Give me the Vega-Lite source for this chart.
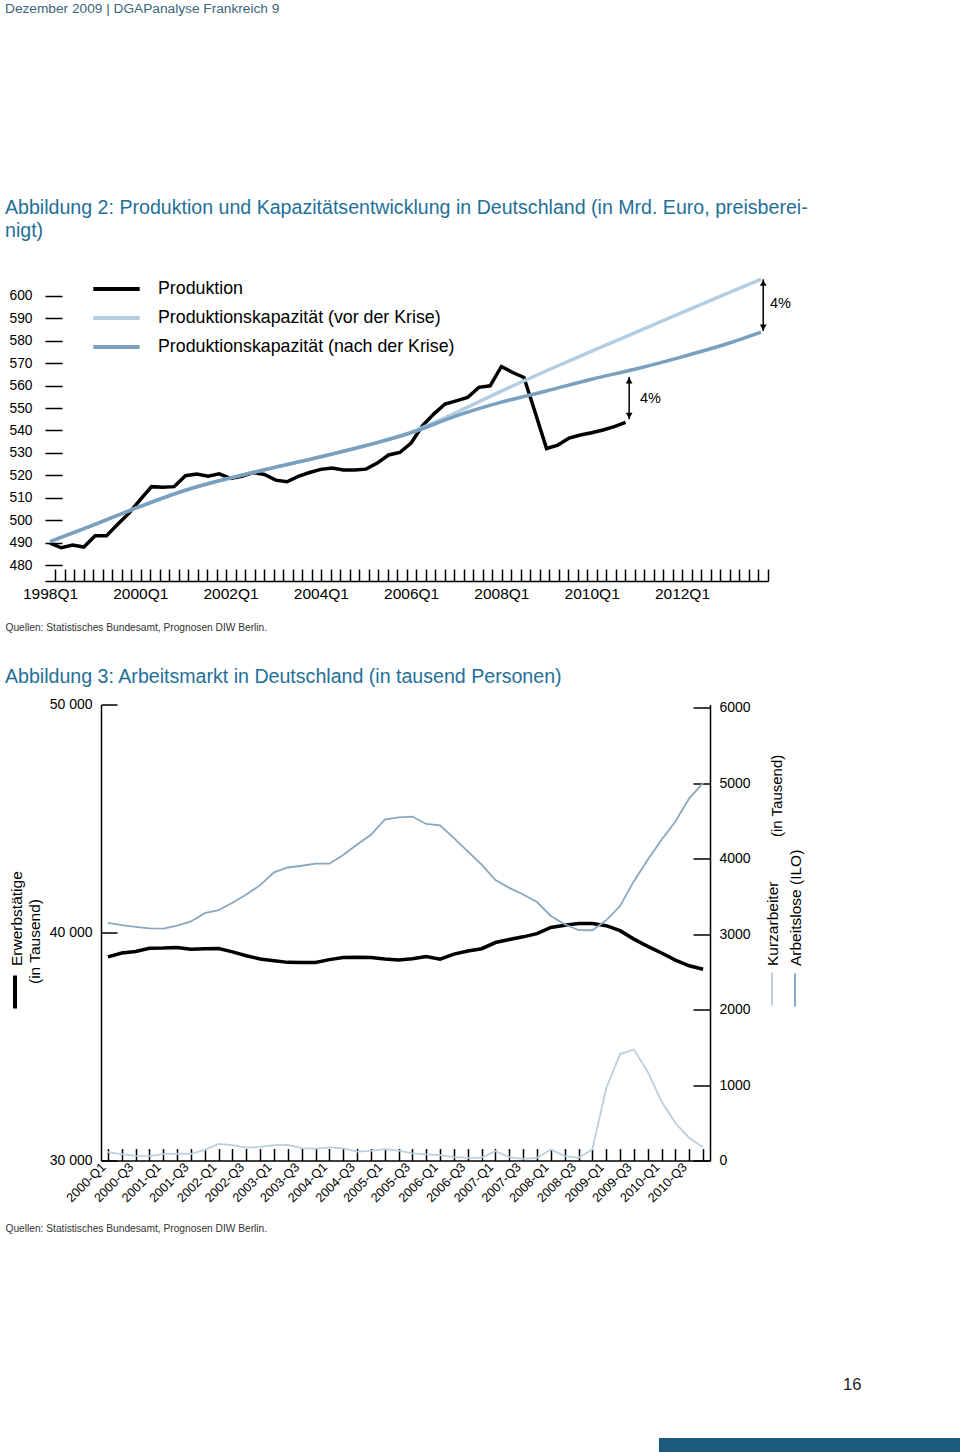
{
  "$schema": "https://vega.github.io/schema/vega-lite/v6.json",
  "background": "white",
  "padding": {"left": 5, "top": 1, "right": 0, "bottom": 0},
  "config": {
    "font": "Liberation Sans",
    "view": {"stroke": null},
    "axis": {"grid": false, "domainColor": "#000", "tickColor": "#000", "labelColor": "#000", "titleColor": "#000", "titleFontWeight": "normal", "domainWidth": 1.5, "tickWidth": 1.5, "labelFlush": false, "labelOverlap": false},
    "legend": {"padding": 0, "labelColor": "#000"},
    "title": {"fontWeight": "normal"}
  },
  "datasets": {
    "prod": [
      {"t": 1998.0, "series": "Produktion", "v": 489.9}, {"t": 1998.25, "series": "Produktion", "v": 487.8}, {"t": 1998.5, "series": "Produktion", "v": 489.0}, {"t": 1998.75, "series": "Produktion", "v": 488.1},
      {"t": 1999.0, "series": "Produktion", "v": 493.1}, {"t": 1999.25, "series": "Produktion", "v": 493.1}, {"t": 1999.5, "series": "Produktion", "v": 498.3}, {"t": 1999.75, "series": "Produktion", "v": 503.2},
      {"t": 2000.0, "series": "Produktion", "v": 509.2}, {"t": 2000.25, "series": "Produktion", "v": 515.0}, {"t": 2000.5, "series": "Produktion", "v": 514.7}, {"t": 2000.75, "series": "Produktion", "v": 515.0},
      {"t": 2001.0, "series": "Produktion", "v": 519.9}, {"t": 2001.25, "series": "Produktion", "v": 520.6}, {"t": 2001.5, "series": "Produktion", "v": 519.6}, {"t": 2001.75, "series": "Produktion", "v": 520.7},
      {"t": 2002.0, "series": "Produktion", "v": 518.7}, {"t": 2002.25, "series": "Produktion", "v": 519.6}, {"t": 2002.5, "series": "Produktion", "v": 521.3}, {"t": 2002.75, "series": "Produktion", "v": 520.4},
      {"t": 2003.0, "series": "Produktion", "v": 517.9}, {"t": 2003.25, "series": "Produktion", "v": 517.2}, {"t": 2003.5, "series": "Produktion", "v": 519.6}, {"t": 2003.75, "series": "Produktion", "v": 521.3},
      {"t": 2004.0, "series": "Produktion", "v": 522.7}, {"t": 2004.25, "series": "Produktion", "v": 523.3}, {"t": 2004.5, "series": "Produktion", "v": 522.4}, {"t": 2004.75, "series": "Produktion", "v": 522.4},
      {"t": 2005.0, "series": "Produktion", "v": 522.8}, {"t": 2005.25, "series": "Produktion", "v": 525.5}, {"t": 2005.5, "series": "Produktion", "v": 529.1}, {"t": 2005.75, "series": "Produktion", "v": 530.2},
      {"t": 2006.0, "series": "Produktion", "v": 534.4}, {"t": 2006.25, "series": "Produktion", "v": 542.1}, {"t": 2006.5, "series": "Produktion", "v": 547.3}, {"t": 2006.75, "series": "Produktion", "v": 551.8},
      {"t": 2007.0, "series": "Produktion", "v": 553.2}, {"t": 2007.25, "series": "Produktion", "v": 554.7}, {"t": 2007.5, "series": "Produktion", "v": 559.2}, {"t": 2007.75, "series": "Produktion", "v": 559.9},
      {"t": 2008.0, "series": "Produktion", "v": 568.5}, {"t": 2008.25, "series": "Produktion", "v": 565.8}, {"t": 2008.5, "series": "Produktion", "v": 563.6}, {"t": 2008.75, "series": "Produktion", "v": 547.9},
      {"t": 2009.0, "series": "Produktion", "v": 532.0}, {"t": 2009.25, "series": "Produktion", "v": 533.5}, {"t": 2009.5, "series": "Produktion", "v": 536.6}, {"t": 2009.75, "series": "Produktion", "v": 538.0},
      {"t": 2010.0, "series": "Produktion", "v": 539.0}, {"t": 2010.25, "series": "Produktion", "v": 540.2}, {"t": 2010.5, "series": "Produktion", "v": 541.7}, {"t": 2010.75, "series": "Produktion", "v": 543.6}
    ],
    "cap": [
      {"t": 1998, "series": "Produktionskapazität (vor der Krise)", "v": 490.5},
      {"t": 1999, "series": "Produktionskapazität (vor der Krise)", "v": 498.2},
      {"t": 2000, "series": "Produktionskapazität (vor der Krise)", "v": 506.2},
      {"t": 2001, "series": "Produktionskapazität (vor der Krise)", "v": 513.4},
      {"t": 2002, "series": "Produktionskapazität (vor der Krise)", "v": 518.9},
      {"t": 2003, "series": "Produktionskapazität (vor der Krise)", "v": 523.7},
      {"t": 2004, "series": "Produktionskapazität (vor der Krise)", "v": 528.3},
      {"t": 2005, "series": "Produktionskapazität (vor der Krise)", "v": 533.3},
      {"t": 2006, "series": "Produktionskapazität (vor der Krise)", "v": 539.3},
      {"t": 2007, "series": "Produktionskapazität (vor der Krise)", "v": 548.0},
      {"t": 2008, "series": "Produktionskapazität (vor der Krise)", "v": 557.5},
      {"t": 2009, "series": "Produktionskapazität (vor der Krise)", "v": 566.6},
      {"t": 2010, "series": "Produktionskapazität (vor der Krise)", "v": 575.3},
      {"t": 2011, "series": "Produktionskapazität (vor der Krise)", "v": 583.9},
      {"t": 2012, "series": "Produktionskapazität (vor der Krise)", "v": 592.5},
      {"t": 2013, "series": "Produktionskapazität (vor der Krise)", "v": 601.0},
      {"t": 2013.75, "series": "Produktionskapazität (vor der Krise)", "v": 607.3},
      {"t": 1998, "series": "Produktionskapazität (nach der Krise)", "v": 490.5},
      {"t": 1999, "series": "Produktionskapazität (nach der Krise)", "v": 498.2},
      {"t": 2000, "series": "Produktionskapazität (nach der Krise)", "v": 506.2},
      {"t": 2001, "series": "Produktionskapazität (nach der Krise)", "v": 513.4},
      {"t": 2002, "series": "Produktionskapazität (nach der Krise)", "v": 518.9},
      {"t": 2003, "series": "Produktionskapazität (nach der Krise)", "v": 523.7},
      {"t": 2004, "series": "Produktionskapazität (nach der Krise)", "v": 528.3},
      {"t": 2005, "series": "Produktionskapazität (nach der Krise)", "v": 533.3},
      {"t": 2006, "series": "Produktionskapazität (nach der Krise)", "v": 539.0},
      {"t": 2007, "series": "Produktionskapazität (nach der Krise)", "v": 546.5},
      {"t": 2008, "series": "Produktionskapazität (nach der Krise)", "v": 552.6},
      {"t": 2009, "series": "Produktionskapazität (nach der Krise)", "v": 557.6},
      {"t": 2010, "series": "Produktionskapazität (nach der Krise)", "v": 562.8},
      {"t": 2011, "series": "Produktionskapazität (nach der Krise)", "v": 567.5},
      {"t": 2012, "series": "Produktionskapazität (nach der Krise)", "v": 572.8},
      {"t": 2013, "series": "Produktionskapazität (nach der Krise)", "v": 578.6},
      {"t": 2013.75, "series": "Produktionskapazität (nach der Krise)", "v": 583.8}
    ],
    "ann": [
      {"x": 2010.83, "lo": 545.0, "hi": 563.8, "lx": 2011.07, "ly": 554.1, "lab": "4%"},
      {"x": 2013.8, "lo": 584.3, "hi": 607.3, "lx": 2013.95, "ly": 596.1, "lab": "4%"}
    ],
    "lab": [
      {"q": "2000-Q1", "s": "Erwerbstätige", "v": 38930}, {"q": "2000-Q2", "s": "Erwerbstätige", "v": 39100}, {"q": "2000-Q3", "s": "Erwerbstätige", "v": 39170}, {"q": "2000-Q4", "s": "Erwerbstätige", "v": 39310},
      {"q": "2001-Q1", "s": "Erwerbstätige", "v": 39315}, {"q": "2001-Q2", "s": "Erwerbstätige", "v": 39340}, {"q": "2001-Q3", "s": "Erwerbstätige", "v": 39270}, {"q": "2001-Q4", "s": "Erwerbstätige", "v": 39285},
      {"q": "2002-Q1", "s": "Erwerbstätige", "v": 39295}, {"q": "2002-Q2", "s": "Erwerbstätige", "v": 39150}, {"q": "2002-Q3", "s": "Erwerbstätige", "v": 38980}, {"q": "2002-Q4", "s": "Erwerbstätige", "v": 38840},
      {"q": "2003-Q1", "s": "Erwerbstätige", "v": 38760}, {"q": "2003-Q2", "s": "Erwerbstätige", "v": 38690}, {"q": "2003-Q3", "s": "Erwerbstätige", "v": 38680}, {"q": "2003-Q4", "s": "Erwerbstätige", "v": 38685},
      {"q": "2004-Q1", "s": "Erwerbstätige", "v": 38810}, {"q": "2004-Q2", "s": "Erwerbstätige", "v": 38900}, {"q": "2004-Q3", "s": "Erwerbstätige", "v": 38915}, {"q": "2004-Q4", "s": "Erwerbstätige", "v": 38905},
      {"q": "2005-Q1", "s": "Erwerbstätige", "v": 38840}, {"q": "2005-Q2", "s": "Erwerbstätige", "v": 38790}, {"q": "2005-Q3", "s": "Erwerbstätige", "v": 38845}, {"q": "2005-Q4", "s": "Erwerbstätige", "v": 38945},
      {"q": "2006-Q1", "s": "Erwerbstätige", "v": 38830}, {"q": "2006-Q2", "s": "Erwerbstätige", "v": 39050}, {"q": "2006-Q3", "s": "Erwerbstätige", "v": 39190}, {"q": "2006-Q4", "s": "Erwerbstätige", "v": 39290},
      {"q": "2007-Q1", "s": "Erwerbstätige", "v": 39560}, {"q": "2007-Q2", "s": "Erwerbstätige", "v": 39690}, {"q": "2007-Q3", "s": "Erwerbstätige", "v": 39810}, {"q": "2007-Q4", "s": "Erwerbstätige", "v": 39950},
      {"q": "2008-Q1", "s": "Erwerbstätige", "v": 40220}, {"q": "2008-Q2", "s": "Erwerbstätige", "v": 40320}, {"q": "2008-Q3", "s": "Erwerbstätige", "v": 40390}, {"q": "2008-Q4", "s": "Erwerbstätige", "v": 40395},
      {"q": "2009-Q1", "s": "Erwerbstätige", "v": 40300}, {"q": "2009-Q2", "s": "Erwerbstätige", "v": 40080}, {"q": "2009-Q3", "s": "Erwerbstätige", "v": 39710}, {"q": "2009-Q4", "s": "Erwerbstätige", "v": 39390},
      {"q": "2010-Q1", "s": "Erwerbstätige", "v": 39100}, {"q": "2010-Q2", "s": "Erwerbstätige", "v": 38790}, {"q": "2010-Q3", "s": "Erwerbstätige", "v": 38540}, {"q": "2010-Q4", "s": "Erwerbstätige", "v": 38390},
      {"q": "2000-Q1", "s": "Arbeitslose (ILO)", "v": 3150}, {"q": "2000-Q2", "s": "Arbeitslose (ILO)", "v": 3120}, {"q": "2000-Q3", "s": "Arbeitslose (ILO)", "v": 3097}, {"q": "2000-Q4", "s": "Arbeitslose (ILO)", "v": 3078},
      {"q": "2001-Q1", "s": "Arbeitslose (ILO)", "v": 3075}, {"q": "2001-Q2", "s": "Arbeitslose (ILO)", "v": 3115}, {"q": "2001-Q3", "s": "Arbeitslose (ILO)", "v": 3170}, {"q": "2001-Q4", "s": "Arbeitslose (ILO)", "v": 3280},
      {"q": "2002-Q1", "s": "Arbeitslose (ILO)", "v": 3320}, {"q": "2002-Q2", "s": "Arbeitslose (ILO)", "v": 3418}, {"q": "2002-Q3", "s": "Arbeitslose (ILO)", "v": 3527}, {"q": "2002-Q4", "s": "Arbeitslose (ILO)", "v": 3651},
      {"q": "2003-Q1", "s": "Arbeitslose (ILO)", "v": 3820}, {"q": "2003-Q2", "s": "Arbeitslose (ILO)", "v": 3885}, {"q": "2003-Q3", "s": "Arbeitslose (ILO)", "v": 3908}, {"q": "2003-Q4", "s": "Arbeitslose (ILO)", "v": 3935},
      {"q": "2004-Q1", "s": "Arbeitslose (ILO)", "v": 3936}, {"q": "2004-Q2", "s": "Arbeitslose (ILO)", "v": 4050}, {"q": "2004-Q3", "s": "Arbeitslose (ILO)", "v": 4190}, {"q": "2004-Q4", "s": "Arbeitslose (ILO)", "v": 4318},
      {"q": "2005-Q1", "s": "Arbeitslose (ILO)", "v": 4520}, {"q": "2005-Q2", "s": "Arbeitslose (ILO)", "v": 4550}, {"q": "2005-Q3", "s": "Arbeitslose (ILO)", "v": 4560}, {"q": "2005-Q4", "s": "Arbeitslose (ILO)", "v": 4462},
      {"q": "2006-Q1", "s": "Arbeitslose (ILO)", "v": 4445}, {"q": "2006-Q2", "s": "Arbeitslose (ILO)", "v": 4274}, {"q": "2006-Q3", "s": "Arbeitslose (ILO)", "v": 4099}, {"q": "2006-Q4", "s": "Arbeitslose (ILO)", "v": 3922},
      {"q": "2007-Q1", "s": "Arbeitslose (ILO)", "v": 3717}, {"q": "2007-Q2", "s": "Arbeitslose (ILO)", "v": 3615}, {"q": "2007-Q3", "s": "Arbeitslose (ILO)", "v": 3527}, {"q": "2007-Q4", "s": "Arbeitslose (ILO)", "v": 3427},
      {"q": "2008-Q1", "s": "Arbeitslose (ILO)", "v": 3242}, {"q": "2008-Q2", "s": "Arbeitslose (ILO)", "v": 3132}, {"q": "2008-Q3", "s": "Arbeitslose (ILO)", "v": 3055}, {"q": "2008-Q4", "s": "Arbeitslose (ILO)", "v": 3053},
      {"q": "2009-Q1", "s": "Arbeitslose (ILO)", "v": 3184}, {"q": "2009-Q2", "s": "Arbeitslose (ILO)", "v": 3374}, {"q": "2009-Q3", "s": "Arbeitslose (ILO)", "v": 3704}, {"q": "2009-Q4", "s": "Arbeitslose (ILO)", "v": 3988},
      {"q": "2010-Q1", "s": "Arbeitslose (ILO)", "v": 4252}, {"q": "2010-Q2", "s": "Arbeitslose (ILO)", "v": 4494}, {"q": "2010-Q3", "s": "Arbeitslose (ILO)", "v": 4801}, {"q": "2010-Q4", "s": "Arbeitslose (ILO)", "v": 5008},
      {"q": "2000-Q1", "s": "Kurzarbeiter", "v": 110}, {"q": "2000-Q2", "s": "Kurzarbeiter", "v": 85}, {"q": "2000-Q3", "s": "Kurzarbeiter", "v": 62}, {"q": "2000-Q4", "s": "Kurzarbeiter", "v": 58},
      {"q": "2001-Q1", "s": "Kurzarbeiter", "v": 85}, {"q": "2001-Q2", "s": "Kurzarbeiter", "v": 92}, {"q": "2001-Q3", "s": "Kurzarbeiter", "v": 88}, {"q": "2001-Q4", "s": "Kurzarbeiter", "v": 140},
      {"q": "2002-Q1", "s": "Kurzarbeiter", "v": 220}, {"q": "2002-Q2", "s": "Kurzarbeiter", "v": 205}, {"q": "2002-Q3", "s": "Kurzarbeiter", "v": 170}, {"q": "2002-Q4", "s": "Kurzarbeiter", "v": 180},
      {"q": "2003-Q1", "s": "Kurzarbeiter", "v": 205}, {"q": "2003-Q2", "s": "Kurzarbeiter", "v": 207}, {"q": "2003-Q3", "s": "Kurzarbeiter", "v": 165}, {"q": "2003-Q4", "s": "Kurzarbeiter", "v": 158},
      {"q": "2004-Q1", "s": "Kurzarbeiter", "v": 175}, {"q": "2004-Q2", "s": "Kurzarbeiter", "v": 162}, {"q": "2004-Q3", "s": "Kurzarbeiter", "v": 118}, {"q": "2004-Q4", "s": "Kurzarbeiter", "v": 128},
      {"q": "2005-Q1", "s": "Kurzarbeiter", "v": 150}, {"q": "2005-Q2", "s": "Kurzarbeiter", "v": 130}, {"q": "2005-Q3", "s": "Kurzarbeiter", "v": 95}, {"q": "2005-Q4", "s": "Kurzarbeiter", "v": 80},
      {"q": "2006-Q1", "s": "Kurzarbeiter", "v": 70}, {"q": "2006-Q2", "s": "Kurzarbeiter", "v": 45}, {"q": "2006-Q3", "s": "Kurzarbeiter", "v": 36}, {"q": "2006-Q4", "s": "Kurzarbeiter", "v": 38},
      {"q": "2007-Q1", "s": "Kurzarbeiter", "v": 124}, {"q": "2007-Q2", "s": "Kurzarbeiter", "v": 45}, {"q": "2007-Q3", "s": "Kurzarbeiter", "v": 22}, {"q": "2007-Q4", "s": "Kurzarbeiter", "v": 36},
      {"q": "2008-Q1", "s": "Kurzarbeiter", "v": 146}, {"q": "2008-Q2", "s": "Kurzarbeiter", "v": 58}, {"q": "2008-Q3", "s": "Kurzarbeiter", "v": 36}, {"q": "2008-Q4", "s": "Kurzarbeiter", "v": 146},
      {"q": "2009-Q1", "s": "Kurzarbeiter", "v": 958}, {"q": "2009-Q2", "s": "Kurzarbeiter", "v": 1411}, {"q": "2009-Q3", "s": "Kurzarbeiter", "v": 1472}, {"q": "2009-Q4", "s": "Kurzarbeiter", "v": 1178},
      {"q": "2010-Q1", "s": "Kurzarbeiter", "v": 783}, {"q": "2010-Q2", "s": "Kurzarbeiter", "v": 497}, {"q": "2010-Q3", "s": "Kurzarbeiter", "v": 299}, {"q": "2010-Q4", "s": "Kurzarbeiter", "v": 177}
    ]
  },
  "title": {"text": "Dezember 2009 | DGAPanalyse Frankreich 9", "anchor": "start", "frame": "bounds", "fontSize": 13.7, "color": "#3b6678", "offset": 183},
  "spacing": 143,
  "vconcat": [
    {
      "spacing": 33.5,
      "vconcat": [
        {
          "width": 723,
          "height": 310,
          "title": {"text": ["Abbildung 2: Produktion und Kapazitätsentwicklung in Deutschland (in Mrd. Euro, preisberei-", "nigt)"], "anchor": "start", "frame": "bounds", "fontSize": 19.6, "lineHeight": 23, "color": "#1f6f99", "offset": 29},
          "resolve": {"axis": {"x": "independent", "y": "independent"}},
          "layer": [
            {
              "data": {"name": "prod"},
              "mark": {"type": "line", "strokeWidth": 3.5},
              "encoding": {
                "x": {"field": "t", "type": "quantitative", "scale": {"domain": [1997.889, 2013.906], "nice": false, "zero": false},
                  "axis": {"orient": "bottom", "labels": false, "title": null, "tickSize": -12,
                    "values": [1998.111, 1998.322, 1998.532, 1998.743, 1998.953, 1999.164, 1999.375, 1999.585, 1999.796, 2000.006, 2000.217, 2000.428, 2000.638, 2000.849, 2001.059, 2001.27, 2001.481, 2001.691, 2001.902, 2002.112, 2002.323, 2002.534, 2002.744, 2002.955, 2003.165, 2003.376, 2003.587, 2003.797, 2004.008, 2004.218, 2004.429, 2004.64, 2004.85, 2005.061, 2005.271, 2005.482, 2005.693, 2005.903, 2006.114, 2006.324, 2006.535, 2006.746, 2006.956, 2007.167, 2007.377, 2007.588, 2007.799, 2008.009, 2008.22, 2008.43, 2008.641, 2008.852, 2009.062, 2009.273, 2009.483, 2009.694, 2009.905, 2010.115, 2010.326, 2010.536, 2010.747, 2010.958, 2011.168, 2011.379, 2011.589, 2011.8, 2012.011, 2012.221, 2012.432, 2012.642, 2012.853, 2013.064, 2013.274, 2013.485, 2013.695, 2013.906]}},
                "y": {"field": "v", "type": "quantitative", "scale": {"domain": [473, 611], "nice": false, "zero": false},
                  "axis": {"orient": "left", "values": [480, 490, 500, 510, 520, 530, 540, 550, 560, 570, 580, 590, 600], "tickSize": -17, "labelPadding": 30, "labelFontSize": 13.8, "domain": false, "title": null}},
                "color": {"field": "series", "type": "nominal",
                  "scale": {"domain": ["Produktion", "Produktionskapazität (vor der Krise)", "Produktionskapazität (nach der Krise)"], "range": ["#000000", "#b4cde1", "#7aa0c0"]},
                  "legend": {"orient": "none", "legendX": 55, "legendY": 1.5, "title": null, "direction": "vertical", "symbolType": "M-1.6,0H1.6", "symbolSize": 841, "symbolStrokeWidth": 4, "labelFontSize": 17.8, "labelOffset": 25, "labelLimit": 500, "rowPadding": 3}}
              }
            },
            {
              "data": {"name": "cap"},
              "mark": {"type": "line", "strokeWidth": 3.5, "interpolate": "monotone"},
              "encoding": {
                "x": {"field": "t", "type": "quantitative",
                  "axis": {"orient": "bottom", "ticks": false, "domain": false, "values": [1998, 2000, 2002, 2004, 2006, 2008, 2010, 2012], "labelExpr": "datum.value + 'Q1'", "labelFontSize": 15.5, "labelPadding": 5,
                    "title": "Quellen: Statistisches Bundesamt, Prognosen DIW Berlin.", "titleFontSize": 10.2, "titleColor": "#333333", "titleX": -40, "titleY": 46, "titleAlign": "left", "titleBaseline": "middle", "titleAngle": 0}},
                "y": {"field": "v", "type": "quantitative", "axis": null},
                "color": {"field": "series", "type": "nominal",
                  "scale": {"domain": ["Produktion", "Produktionskapazität (vor der Krise)", "Produktionskapazität (nach der Krise)"], "range": ["#000000", "#b4cde1", "#7aa0c0"]},
                  "legend": {"orient": "none", "legendX": 55, "legendY": 1.5, "title": null, "direction": "vertical", "symbolType": "M-1.6,0H1.6", "symbolSize": 841, "symbolStrokeWidth": 4, "labelFontSize": 17.8, "labelOffset": 25, "labelLimit": 500, "rowPadding": 3}}
              }
            },
            {
              "data": {"name": "ann"},
              "mark": {"type": "rule", "strokeWidth": 1.5, "color": "#000"},
              "encoding": {
                "x": {"field": "x", "type": "quantitative", "axis": null},
                "y": {"field": "lo", "type": "quantitative", "axis": null},
                "y2": {"field": "hi"}
              }
            },
            {
              "data": {"name": "ann"},
              "mark": {"type": "point", "shape": "triangle-up", "filled": true, "color": "#000", "size": 45, "opacity": 1, "yOffset": 3.5},
              "encoding": {
                "x": {"field": "x", "type": "quantitative", "axis": null},
                "y": {"field": "hi", "type": "quantitative", "axis": null}
              }
            },
            {
              "data": {"name": "ann"},
              "mark": {"type": "point", "shape": "triangle-down", "filled": true, "color": "#000", "size": 45, "opacity": 1, "yOffset": -3.5},
              "encoding": {
                "x": {"field": "x", "type": "quantitative", "axis": null},
                "y": {"field": "lo", "type": "quantitative", "axis": null}
              }
            },
            {
              "data": {"name": "ann"},
              "mark": {"type": "text", "align": "left", "baseline": "middle", "fontSize": 14.5, "color": "#000"},
              "encoding": {
                "x": {"field": "lx", "type": "quantitative", "axis": null},
                "y": {"field": "ly", "type": "quantitative", "axis": null},
                "text": {"field": "lab"}
              }
            }
          ]
        },
        {
          "width": 665,
          "height": 456,
          "title": {"text": "Abbildung 3: Arbeitsmarkt in Deutschland (in tausend Personen)", "anchor": "start", "frame": "bounds", "fontSize": 19.6, "color": "#1f6f99", "offset": 10},
          "data": {"name": "lab"},
          "resolve": {"scale": {"y": "independent", "color": "independent"}, "axis": {"y": "independent", "x": "independent"}},
          "layer": [
            {
              "transform": [{"filter": "datum.s == 'Erwerbstätige'"}],
              "mark": {"type": "line", "strokeWidth": 3.5},
              "encoding": {
                "x": {"field": "q", "type": "ordinal", "sort": null, "scale": {"type": "point", "padding": 0.5, "range": [56, 665]},
                  "axis": {"orient": "bottom", "labelAngle": -45, "tickSize": -12, "labelPadding": 12, "labelOffset": -9, "labelFontSize": 12.7,
                    "labelExpr": "(indexof(datum.value, 'Q1') > 0 || indexof(datum.value, 'Q3') > 0) ? datum.value : ''",
                    "title": "Quellen: Statistisches Bundesamt, Prognosen DIW Berlin.", "titleFontSize": 10.2, "titleColor": "#333333", "titleX": -40, "titleY": 68, "titleAlign": "left", "titleBaseline": "middle", "titleAngle": 0}},
                "y": {"field": "v", "type": "quantitative", "scale": {"domain": [30000, 50000], "nice": false, "zero": false},
                  "axis": {"orient": "left", "offset": -56, "values": [30000, 40000, 50000], "tickSize": -16, "labelPadding": 25, "labelFontSize": 14,
                    "labelExpr": "replace(format(datum.value, ','), ',', ' ')",
                    "title": "(in Tausend)", "titleAngle": 270, "titleAlign": "left", "titleBaseline": "top", "titleX": -73.5, "titleY": 279, "titleFontSize": 15.5}},
                "color": {"field": "s", "type": "nominal", "scale": {"domain": ["Erwerbstätige"], "range": ["#000000"]},
                  "legend": {"orient": "none", "legendX": -37.5, "legendY": 280, "title": null, "symbolType": "M0,-3V3", "symbolSize": 121, "symbolStrokeWidth": 4, "labelExpr": "''", "labelFontSize": 8}}
              }
            },
            {
              "transform": [{"filter": "datum.s == 'Erwerbstätige'"}],
              "mark": {"type": "line", "strokeWidth": 3.5, "opacity": 0},
              "encoding": {
                "x": {"field": "q", "type": "ordinal", "sort": null, "axis": null},
                "y": {"field": "v", "type": "quantitative", "scale": {"domain": [30000, 50000], "nice": false, "zero": false},
                  "axis": {"orient": "left", "offset": -56, "domain": false, "ticks": false, "labels": false,
                    "title": "Erwerbstätige", "titleAngle": 270, "titleAlign": "left", "titleBaseline": "top", "titleX": -92, "titleY": 261, "titleFontSize": 15.5}}
              }
            },
            {
              "transform": [{"filter": "datum.s == 'Arbeitslose (ILO)'"}],
              "mark": {"type": "line", "strokeWidth": 1.8},
              "encoding": {
                "x": {"field": "q", "type": "ordinal", "sort": null, "axis": null},
                "y": {"field": "v", "type": "quantitative", "scale": {"domain": [0, 6046], "nice": false, "zero": false},
                  "axis": {"orient": "right", "values": [0, 1000, 2000, 3000, 4000, 5000, 6000], "format": "d", "tickSize": -17, "labelPadding": 26, "labelFontSize": 14,
                    "title": ["Kurzarbeiter", "Arbeitslose (ILO)"], "titleAngle": 270, "titleAlign": "left", "titleBaseline": "top", "titleX": 55, "titleY": 261, "titleFontSize": 15.5, "titleLineHeight": 23.5}},
                "color": {"field": "s", "type": "nominal", "scale": {"domain": ["Arbeitslose (ILO)"], "range": ["#8aa7bd"]},
                  "legend": {"orient": "none", "legendX": 743.5, "legendY": 279, "title": null, "symbolType": "M0,-3V3", "symbolSize": 121, "symbolStrokeWidth": 2, "labelExpr": "''", "labelFontSize": 8}}
              }
            },
            {
              "transform": [{"filter": "datum.s == 'Kurzarbeiter'"}],
              "mark": {"type": "line", "strokeWidth": 1.8},
              "encoding": {
                "x": {"field": "q", "type": "ordinal", "sort": null, "axis": null},
                "y": {"field": "v", "type": "quantitative", "scale": {"domain": [0, 6046], "nice": false, "zero": false},
                  "axis": {"orient": "right", "domain": false, "ticks": false, "labels": false,
                    "title": "(in Tausend)", "titleAngle": 270, "titleAlign": "left", "titleBaseline": "top", "titleX": 59, "titleY": 132, "titleFontSize": 15}},
                "color": {"field": "s", "type": "nominal", "scale": {"domain": ["Kurzarbeiter"], "range": ["#bccfdc"]},
                  "legend": {"orient": "none", "legendX": 720.5, "legendY": 278, "title": null, "symbolType": "M0,-3V3", "symbolSize": 121, "symbolStrokeWidth": 2, "labelExpr": "''", "labelFontSize": 8}}
              }
            }
          ]
        }
      ]
    },
    {
      "spacing": 0,
      "hconcat": [
        {
          "width": 614,
          "height": 1,
          "data": {"values": [{}]},
          "mark": {"type": "text", "text": ""},
          "encoding": {}
        },
        {
          "width": 301,
          "height": 15,
          "data": {"values": [{}]},
          "mark": {"type": "text", "text": ""},
          "encoding": {},
          "view": {"fill": "#1c5a7d", "stroke": null},
          "title": {"text": "16", "anchor": "start", "frame": "group", "dx": 184, "fontSize": 16.5, "color": "#222222", "offset": 44.5}
        }
      ]
    }
  ]
}
